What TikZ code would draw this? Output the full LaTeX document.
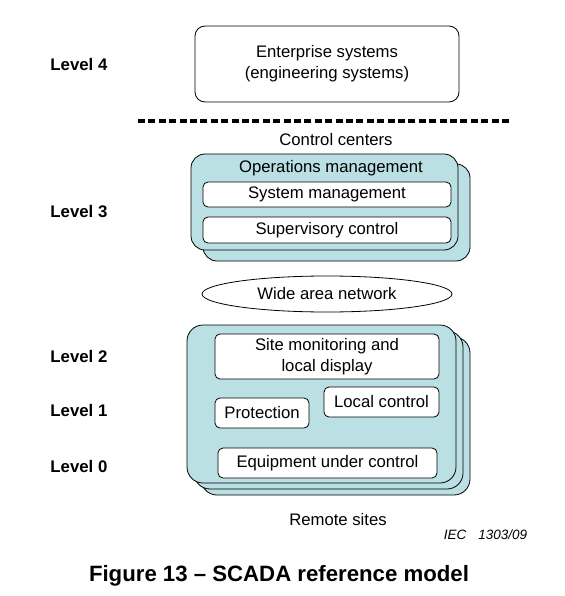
\documentclass[tikz,border=0pt]{standalone}
\usepackage{fontspec}
\setmainfont{Liberation Sans}
\usepackage{tikz}
\usetikzlibrary{shapes.geometric}

\definecolor{panelfill}{RGB}{186,224,228}

\begin{document}
\begin{tikzpicture}[x=1pt,y=-1pt,line width=0.8pt,
    box/.style={draw, fill=white, rounded corners=5pt, align=center, inner sep=0pt,
        font=\fontsize{16.7}{21}\selectfont},
    panel/.style={draw, fill=panelfill, rounded corners=14pt},
    lvl/.style={anchor=west, inner sep=0pt, font=\fontsize{16.8}{20}\selectfont\bfseries},
    txt/.style={inner sep=0pt, font=\fontsize{16.7}{21}\selectfont}]
    \useasboundingbox (0,0) rectangle (564,596);

    \foreach \lv/\yy in {4/64,3/212,2/356,1/410,0/466}
        \node[lvl] (level\lv) at (50,\yy) {Level \lv};

    \node[box, rounded corners=10pt, minimum width=264, minimum height=76] (ent) at (327,64)
        {Enterprise systems\\(engineering systems)};

    \coordinate (dashl) at (138,121);
    \coordinate (dashr) at (512,121);
    \draw[line width=3.2pt, dash pattern=on 7pt off 3.4pt] (dashl) -- (dashr);
    \node[txt] (cc) at (336,140) {Control centers};

    \draw[panel] (203,164) rectangle (470,261);
    \draw[panel] (191,154) rectangle (458,250);
    \node[txt] (ops) at (331,168) {Operations management};
    \node[box, minimum width=248, minimum height=25] (sysm) at (327,194.5) {System management};
    \node[box, minimum width=248, minimum height=26] (sup) at (327,230) {Supervisory control};

    \node[draw, ellipse, fill=white, inner sep=0pt, minimum width=250, minimum height=36,
        font=\fontsize{16.7}{21}\selectfont] (wan) at (327,294) {Wide area network};

    \draw[panel, rounded corners=16pt] (201,337) rectangle (470,495);
    \draw[panel, rounded corners=16pt] (194,331) rectangle (463,489);
    \draw[panel, rounded corners=16pt] (187,325) rectangle (456,483);
    \node[box, minimum width=224, minimum height=45] (site) at (327,356.5)
        {Site monitoring and\\local display};
    \node[box, minimum width=94, minimum height=30] (prot) at (262,413) {Protection};
    \node[box, minimum width=115, minimum height=30] (loc) at (381.5,402) {Local control};
    \node[box, minimum width=219, minimum height=30] (equ) at (327.5,463) {Equipment under control};

    \node[txt] (rs) at (338,520) {Remote sites};
    \node[inner sep=0pt, font=\fontsize{13.5}{16}\selectfont\itshape] (iec) at (485.5,535)
        {IEC\hspace{12pt}1303/09};
    \node[inner sep=0pt, font=\fontsize{22.2}{26}\selectfont\bfseries] (title) at (279,576)
        {Figure 13 -- SCADA reference model};
\end{tikzpicture}
\end{document}
